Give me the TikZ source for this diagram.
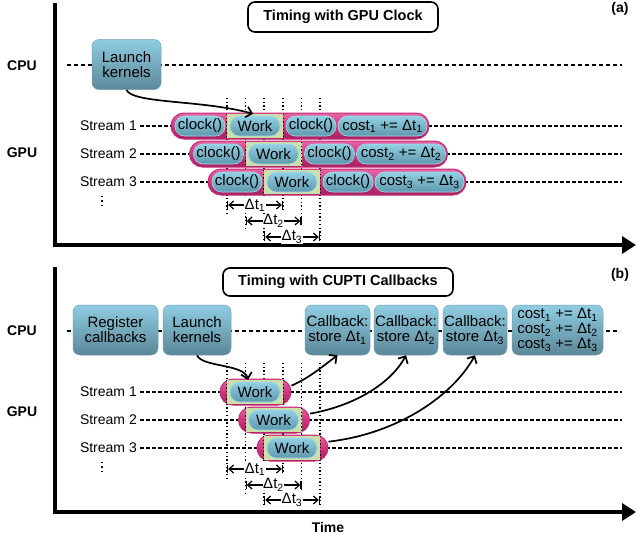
\documentclass[tikz,border=0pt]{standalone}
\usepackage{fontspec}
\setmainfont{Liberation Sans}
\usetikzlibrary{arrows.meta}

\definecolor{tealtop}{HTML}{8FCDE2}
\definecolor{tealbot}{HTML}{5B8798}
\definecolor{tealedge}{HTML}{6F9FB0}
\definecolor{chiptop}{HTML}{92D0E4}
\definecolor{chipbot}{HTML}{5E98AC}
\definecolor{chipedge}{HTML}{A9D9E8}
\definecolor{pinktop}{HTML}{E766A6}
\definecolor{pinkmid}{HTML}{D0347F}
\definecolor{pinkbot}{HTML}{A42160}
\definecolor{pinkedge}{HTML}{C92B75}
\definecolor{workgreen}{HTML}{C9E0A8}

\tikzset{
  lbl/.style={font=\fontsize{14}{16}\selectfont, inner sep=0},
  head/.style={font=\bfseries\fontsize{14}{16}\selectfont, inner sep=0},
  titlebox/.style={draw, line width=1.6, rounded corners=7, fill=white,
    font=\bfseries\fontsize{14.5}{16}\selectfont, inner sep=0},
  tealbox/.style={rounded corners=7, top color=tealtop, bottom color=tealbot,
    draw=tealedge, line width=0.5, align=center, inner sep=0,
    minimum height=50, font=\fontsize{15}{15}\selectfont},
  capsule/.style={rounded corners=13, draw=pinkedge, line width=1,
    top color=pinktop, bottom color=pinkbot, middle color=pinkmid,
    inner sep=0, minimum height=26},
  chip/.style={rounded corners=9.5, top color=chiptop, bottom color=chipbot,
    draw=chipedge, line width=0.6, inner sep=0, minimum height=20,
    font=\fontsize{15}{15}\selectfont},
  workbg/.style={fill=workgreen, inner sep=0, minimum height=24, minimum width=56},
  guide/.style={line width=1.3, dash pattern=on 1.3 off 2.4},
  ellip/.style={line width=1.2, dash pattern=on 1.2 off 3.6},
  lane/.style={line width=1.2, dash pattern=on 3.5 off 2.5},
  cpulane/.style={line width=1.3, dash pattern=on 4 off 3},
  axis/.style={line width=3.5, line join=miter, -{Triangle[length=14,width=17]}},
  conn/.style={line width=1.7, -{Straight Barb[length=5.5,width=11]}},
  span/.style={line width=1.2, |<->|, >={Straight Barb[length=4.5,width=8]}},
  dtlbl/.style={fill=white, inner sep=0.6, font=\fontsize{15}{15}\selectfont},
}

\begin{document}
\begin{tikzpicture}[x=1pt,y=-1pt]
\useasboundingbox (0,0) rectangle (636,539);

% ================= (a) timing with the GPU clock =================
\draw[axis] (55,3) -- (55,245) -- (636,245);
\node[titlebox, minimum width=190, minimum height=30] (titleA) at (343,17) {Timing with GPU Clock};
\node[head] (tagA) at (620,9) {(a)};
\node[head] (cpuA) at (22,66) {CPU};
\node[head] (gpuA) at (22,153) {GPU};

\draw[cpulane] (67,65) -- (622,65);
\node[tealbox, minimum width=69] (launchA) at (126.5,64.5) {Launch\\kernels};

% guide lines marking start and end of each kernel
\foreach \k/\el/\er in {0/215/210, 1/230/226, 2/242/242}{
  \draw[guide] ({227+18.5*\k},98) -- ({227+18.5*\k},\el);
  \draw[guide] ({283+18.5*\k},98) -- ({283+18.5*\k},\er);
}

\foreach \k in {0,1,2}{
  \pgfmathsetmacro{\L}{171+18.5*\k}
  \pgfmathsetmacro{\Y}{126+28*\k}
  \pgfmathtruncatemacro{\i}{\k+1}
  \node[lbl, anchor=east] (strA\i) at (137,\Y) {Stream \i};
  \draw[lane] (140,\Y) -- (622,\Y);
  \node[capsule, minimum width=258] (capA\i) at (\L+129,\Y) {};
  \node[chip, minimum width=50] (clkA\i) at (\L+29,\Y) {clock()};
  \node[workbg] (bgA\i) at (\L+84,\Y) {};
  \draw[guide] (bgA\i.north west) -- (bgA\i.south west);
  \draw[guide] (bgA\i.north east) -- (bgA\i.south east);
  \node[chip, minimum width=50] (workA\i) at (\L+84,\Y) {Work};
  \node[chip, minimum width=50] (clkendA\i) at (\L+140,\Y) {clock()};
  \node[chip, minimum width=89] (costA\i) at (\L+211.5,\Y) {cost\textsubscript{\i} += Δt\textsubscript{\i}};
}
% more streams follow
\draw[ellip] (102,195.5) -- (102,207);

\foreach \k/\r in {0/205, 1/221, 2/237}{
  \pgfmathtruncatemacro{\i}{\k+1}
  \draw[span] ({227+18.5*\k},\r) -- ({283+18.5*\k},\r)
    node[midway, dtlbl] {Δt\textsubscript{\i}};
}

\draw[conn] (launchA.south) .. controls +(5,14) and +(-50,-14) .. ([xshift=-2pt]bgA1.north);

% ================= (b) timing with CUPTI callbacks =================
\draw[axis] (55,267) -- (55,512) -- (636,512);
\node[titlebox, minimum width=230, minimum height=28] (titleB) at (338,282) {Timing with CUPTI Callbacks};
\node[head] (tagB) at (620,275) {(b)};
\node[head] (cpuB) at (22,331) {CPU};
\node[head] (gpuB) at (22,412) {GPU};
\node[head] (timeB) at (328,527) {Time};

\draw[cpulane] (67,331) -- (620,331);
\node[tealbox, minimum width=85] (regB) at (115.5,330) {Register\\callbacks};
\node[tealbox, minimum width=68] (launchB) at (197,330) {Launch\\kernels};
\node[tealbox, minimum width=65] (cb1) at (337.5,330) {Callback:\\store Δt\textsubscript{1}};
\node[tealbox, minimum width=64] (cb2) at (406,330) {Callback:\\store Δt\textsubscript{2}};
\node[tealbox, minimum width=64] (cb3) at (475,330) {Callback:\\store Δt\textsubscript{3}};
\node[tealbox, minimum width=91] (costB) at (557.5,330)
  {cost\textsubscript{1} += Δt\textsubscript{1}\\cost\textsubscript{2} += Δt\textsubscript{2}\\cost\textsubscript{3} += Δt\textsubscript{3}};

\foreach \k/\el/\er in {0/480/473, 1/493/490, 2/505/505}{
  \draw[guide] ({227+18.5*\k},363) -- ({227+18.5*\k},\el);
  \draw[guide] ({283+18.5*\k},363) -- ({283+18.5*\k},\er);
}

\foreach \k in {0,1,2}{
  \pgfmathsetmacro{\L}{220+18.5*\k}
  \pgfmathsetmacro{\Y}{392+28*\k}
  \pgfmathtruncatemacro{\i}{\k+1}
  \node[lbl, anchor=east] (strB\i) at (137,\Y) {Stream \i};
  \draw[lane] (140,\Y) -- (622,\Y);
  \node[capsule, minimum width=71] (capB\i) at (\L+35.5,\Y) {};
  \node[workbg] (bgB\i) at (\L+35,\Y) {};
  \draw[guide] (bgB\i.north west) -- (bgB\i.south west);
  \draw[guide] (bgB\i.north east) -- (bgB\i.south east);
  \node[chip, minimum width=50] (workB\i) at (\L+35,\Y) {Work};
}
% more streams follow
\draw[ellip] (102,461.5) -- (102,473);

\foreach \k/\r in {0/469, 1/485, 2/500}{
  \pgfmathtruncatemacro{\i}{\k+1}
  \draw[span] ({227+18.5*\k},\r) -- ({283+18.5*\k},\r)
    node[midway, dtlbl] {Δt\textsubscript{\i}};
}

\draw[conn] (launchB.south) .. controls +(5,12) and +(-4,-16) .. ([xshift=-7pt]bgB1.north);
\draw[conn] (capB1.10) .. controls +(18,-8) and +(-16,12) .. (cb1.south);
\draw[conn] (capB2.10) .. controls +(45,-8) and +(-15,28) .. (cb2.south);
\draw[conn] (capB3.10) .. controls +(70,-8) and +(-22,40) .. (cb3.south);
\end{tikzpicture}
\end{document}
